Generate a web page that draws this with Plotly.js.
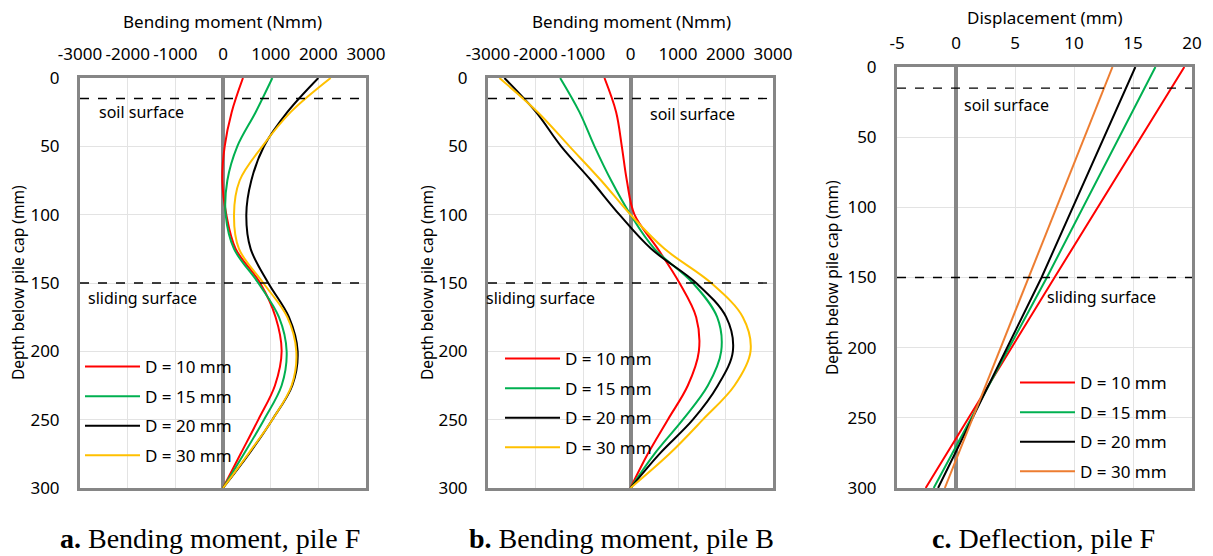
<!DOCTYPE html>
<html><head><meta charset="utf-8">
<script src="https://cdn.plot.ly/plotly-3.0.1.min.js"></script>
<style>html,body{margin:0;padding:0;background:#fff}#chart{width:1213px;height:556px}</style>
</head><body><div id="chart"></div>
<script>
// ---------- data ----------
const seriesNames = ['D = 10 mm', 'D = 15 mm', 'D = 20 mm', 'D = 30 mm'];

// Panel a: bending moment, pile F (Nmm) vs depth (mm)
const depthA = [0, 25, 50, 75, 100, 125, 150, 175, 200, 225, 250, 275, 300];
const momentA_D10 = [419, 182, 35, -14, 70, 266, 780, 1104, 1230, 1090, 741, 370, 0];
const momentA_D15 = [1035, 685, 300, 91, 56, 231, 741, 1174, 1335, 1230, 860, 440, 0];
const momentA_D20 = [2000, 1349, 860, 594, 489, 580, 950, 1384, 1566, 1454, 1034, 545, 0];
const momentA_D30 = [2258, 1419, 825, 350, 231, 335, 846, 1349, 1538, 1440, 1034, 531, 0];

// Panel b: bending moment, pile B (Nmm) vs depth (mm)
const depthB = [0, 25, 50, 75, 100, 125, 150, 175, 200, 225, 250, 275, 300];
const momentB_D10 = [-548, -302, -183, -77, 84, 576, 1032, 1383, 1439, 1207, 786, 365, 0];
const momentB_D15 = [-1481, -1074, -758, -407, 0, 505, 1313, 1825, 1909, 1629, 1102, 505, 0];
const momentB_D20 = [-2654, -1987, -1460, -828, -232, 435, 1383, 2015, 2155, 1839, 1313, 611, 0];
const momentB_D30 = [-2759, -1952, -1285, -618, 0, 716, 1699, 2366, 2527, 2190, 1523, 821, 0];

// Panel c: deflection, pile F (mm) vs depth (mm)
const depthC = [0, 150, 300];
const dispC_D10 = [19.35, 8.35, -2.57];
const dispC_D15 = [16.9, 7.7, -1.89];
const dispC_D20 = [15.2, 7.25, -1.52];
const dispC_D30 = [13.26, 6.13, -0.95];

const momentTicks = [-3000, -2000, -1000, 0, 1000, 2000, 3000];
const dispTicks = [-5, 0, 5, 10, 15, 20];
const depthTicks = [0, 50, 100, 150, 200, 250, 300];
const soilSurfaceDepth = 15;
const slidingSurfaceDepth = 150;

// ---------- styling ----------
const colorsAB = ['#FF0000', '#00B050', '#000000', '#FFC000'];
const colorsC = ['#FF0000', '#00B050', '#000000', '#ED7D31'];
const FONT = 'Noto Sans, sans-serif';
const GRID = '#E3E3E3';
const BORDER = '#868686';

function mk(xs, ys, i, colors, xa, ya, leg, smooth) {
  return {
    x: xs, y: ys, type: 'scatter', mode: 'lines', name: seriesNames[i],
    line: {color: colors[i], width: 2, shape: smooth ? 'spline' : 'linear', smoothing: 1},
    xaxis: xa, yaxis: ya, legend: leg, legendgroup: leg + i, hoverinfo: 'x+y'
  };
}

const data = [
  mk(momentA_D10, depthA, 0, colorsAB, 'x', 'y', 'legend', true),
  mk(momentA_D15, depthA, 1, colorsAB, 'x', 'y', 'legend', true),
  mk(momentA_D20, depthA, 2, colorsAB, 'x', 'y', 'legend', true),
  mk(momentA_D30, depthA, 3, colorsAB, 'x', 'y', 'legend', true),
  mk(momentB_D10, depthB, 0, colorsAB, 'x2', 'y2', 'legend2', true),
  mk(momentB_D15, depthB, 1, colorsAB, 'x2', 'y2', 'legend2', true),
  mk(momentB_D20, depthB, 2, colorsAB, 'x2', 'y2', 'legend2', true),
  mk(momentB_D30, depthB, 3, colorsAB, 'x2', 'y2', 'legend2', true),
  mk(dispC_D10, depthC, 0, colorsC, 'x3', 'y3', 'legend3', false),
  mk(dispC_D15, depthC, 1, colorsC, 'x3', 'y3', 'legend3', false),
  mk(dispC_D20, depthC, 2, colorsC, 'x3', 'y3', 'legend3', false),
  mk(dispC_D30, depthC, 3, colorsC, 'x3', 'y3', 'legend3', false)
];

const W = 1213, H = 556;
const px = v => v / W;
const py = v => 1 - v / H;

function xaxis(dom, range, ticks, anchor) {
  return {
    domain: dom, range: range, side: 'top', anchor: anchor,
    tickmode: 'array', tickvals: ticks, ticktext: ticks.map(String), tickangle: 0,
    ticks: '', ticklabelstandoff: 8,
    tickfont: {family: FONT, size: 17, color: '#000'},
    showgrid: true, gridcolor: GRID, gridwidth: 1,
    showline: true, linecolor: BORDER, linewidth: 3, mirror: true,
    zeroline: true, zerolinecolor: BORDER, zerolinewidth: 4,
    fixedrange: true
  };
}
function yaxis(dom, anchor) {
  return {
    domain: dom, range: [300, 0], anchor: anchor,
    tickmode: 'array', tickvals: depthTicks, ticktext: depthTicks.map(String),
    ticks: '', ticklabelstandoff: 14,
    tickfont: {family: FONT, size: 17, color: '#000'},
    showgrid: true, gridcolor: GRID, gridwidth: 1,
    showline: true, linecolor: BORDER, linewidth: 3, mirror: true,
    zeroline: false, fixedrange: true
  };
}

const domA = [px(80), px(366)], domB = [px(488), px(773)], domC = [px(897), px(1192)];
const domYAB = [py(488), py(78)], domYC = [py(488), py(67)];

function hline(xref, yref, depth) {
  return {type: 'line', xref: xref + ' domain', yref: yref, x0: 0, x1: 1, y0: depth, y1: depth,
          line: {color: '#000', width: 1.3, dash: 'dash'}};
}

function ann(text, x, y, opts) {
  return Object.assign({text: text, x: px(x), y: py(y), xref: 'paper', yref: 'paper',
    showarrow: false, xanchor: 'left', yanchor: 'middle',
    font: {family: FONT, size: 16, color: '#000'}}, opts || {});
}

const titleFont = {family: FONT, size: 17, color: '#000'};
const capFont = {family: 'Liberation Serif, Times New Roman, serif', size: 28, color: '#000'};
const annotations = [
  ann('Bending moment (Nmm)', 223, 22, {xanchor: 'center', font: titleFont}),
  ann('Bending moment (Nmm)', 631, 22, {xanchor: 'center', font: titleFont}),
  ann('Displacement (mm)', 1045, 17, {xanchor: 'center', font: titleFont}),
  ann('Depth below pile cap (mm)', 18, 283, {xanchor: 'center', textangle: -90, font: {family: FONT, size: 15.5, color: '#000'}}),
  ann('Depth below pile cap (mm)', 427, 283, {xanchor: 'center', textangle: -90, font: {family: FONT, size: 15.5, color: '#000'}}),
  ann('Depth below pile cap (mm)', 832, 278, {xanchor: 'center', textangle: -90, font: {family: FONT, size: 15.5, color: '#000'}}),
  ann('soil surface', 97, 112),
  ann('sliding surface', 86, 298),
  ann('soil surface', 648, 114),
  ann('sliding surface', 484, 298),
  ann('soil surface', 962, 105),
  ann('sliding surface', 1045, 297),
  ann('<b>a.</b> Bending moment, pile F', 210, 538, {xanchor: 'center', font: capFont}),
  ann('<b>b.</b> Bending moment, pile B', 621, 538, {xanchor: 'center', font: capFont}),
  ann('<b>c.</b> Deflection, pile F', 1043, 538, {xanchor: 'center', font: capFont})
];

function legend(x, y) {
  return {x: px(x), y: py(y), xanchor: 'left', yanchor: 'top', bgcolor: 'rgba(0,0,0,0)',
          borderwidth: 0, itemwidth: 55, tracegroupgap: 4.5,
          font: {family: FONT, size: 17, color: '#000'}, itemclick: false, itemdoubleclick: false};
}

const layout = {
  width: W, height: H, margin: {l: 0, r: 0, t: 0, b: 0},
  paper_bgcolor: '#fff', plot_bgcolor: '#fff', showlegend: true,
  xaxis: xaxis(domA, [-3000, 3000], momentTicks, 'y'),
  yaxis: yaxis(domYAB, 'x'),
  xaxis2: xaxis(domB, [-3000, 3000], momentTicks, 'y2'),
  yaxis2: yaxis(domYAB, 'x2'),
  xaxis3: xaxis(domC, [-5, 20], dispTicks, 'y3'),
  yaxis3: yaxis(domYC, 'x3'),
  legend: legend(80, 349),
  legend2: legend(500, 341),
  legend3: legend(1015, 365),
  shapes: [
    hline('x', 'y', soilSurfaceDepth), hline('x', 'y', slidingSurfaceDepth),
    hline('x2', 'y2', soilSurfaceDepth), hline('x2', 'y2', slidingSurfaceDepth),
    hline('x3', 'y3', soilSurfaceDepth), hline('x3', 'y3', slidingSurfaceDepth)
  ],
  annotations: annotations
};

Plotly.newPlot('chart', data, layout, {displayModeBar: false, staticPlot: true});
</script>
</body></html>
